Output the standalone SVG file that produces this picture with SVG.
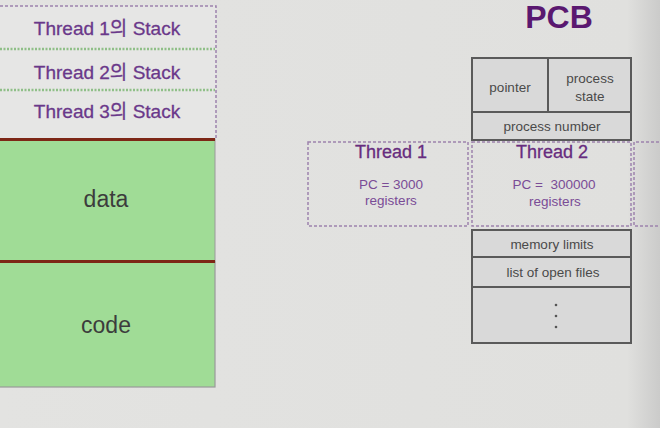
<svg xmlns="http://www.w3.org/2000/svg" width="660" height="428" viewBox="0 0 660 428">
<defs>
<linearGradient id="bg" x1="0" y1="0" x2="1" y2="0">
<stop offset="0" stop-color="#e3e3e1"/>
<stop offset="0.95" stop-color="#e0e0de"/>
<stop offset="1" stop-color="#cbcbca"/>
</linearGradient>
<style>
text{font-family:"Liberation Sans","Noto Sans CJK KR",Arial,sans-serif;text-anchor:middle}
.stk{font-size:19px;fill:#6a388a;stroke:#6a388a;stroke-width:0.3}
.seg{font-size:23px;fill:#3c3c3c}
.cell{fill:#d9d9d9;stroke:#5a5a5a;stroke-width:2}
.pt{font-size:13.5px;fill:#4a4a4a}
.th{font-size:18px;fill:#672c7e;stroke:#672c7e;stroke-width:0.3}
.tp{font-size:13.5px;fill:#7a4c96}
.dash{fill:none;stroke:#9d83ad;stroke-width:1.5;stroke-dasharray:3 2}
.gsep{stroke:#8fbf88;stroke-width:2.5;stroke-dasharray:2 1.5}
.red{stroke:#7d2716;stroke-width:3}
</style>
</defs>
<rect width="660" height="428" fill="url(#bg)"/>

<g id="address-space">
<g id="stack-area">
<rect x="-2" y="6" width="218" height="132" fill="#e6e6e5"/>
<path d="M0 6 H216 V138" class="dash"/>
</g>
<g id="thread1-stack">
<text x="107" y="35" class="stk">Thread 1의 Stack</text>
</g>
<line x1="0" y1="49" x2="215" y2="49" class="gsep"/>
<g id="thread2-stack">
<text x="107" y="79" class="stk">Thread 2의 Stack</text>
</g>
<line x1="0" y1="90" x2="215" y2="90" class="gsep"/>
<g id="thread3-stack">
<text x="107" y="118" class="stk">Thread 3의 Stack</text>
</g>
<g id="data">
<rect x="-2" y="139" width="217" height="123" fill="#a0dc96" stroke="#9a9a9a" stroke-width="1"/>
<text x="106" y="207" class="seg">data</text>
</g>
<g id="code">
<rect x="-2" y="262" width="217" height="125" fill="#a0dc96" stroke="#9a9a9a" stroke-width="1.2"/>
<text x="106" y="333" class="seg">code</text>
</g>
<line x1="0" y1="139.5" x2="215" y2="139.5" class="red"/>
<line x1="0" y1="261.5" x2="215" y2="261.5" class="red"/>
</g>

<g id="pcb-title">
<text x="559" y="28" font-size="32" font-weight="bold" fill="#5a1870">PCB</text>
</g>

<g id="pcb">
<g id="pointer">
<rect x="472" y="58" width="76" height="54" class="cell"/>
<text x="510" y="92" class="pt">pointer</text>
</g>
<g id="process-state">
<rect x="548" y="58" width="83" height="54" class="cell"/>
<text x="590" y="83" class="pt">process</text>
<text x="590" y="101" class="pt">state</text>
</g>
<g id="process-number">
<rect x="472" y="112" width="159" height="28" class="cell"/>
<text x="552" y="131" class="pt">process number</text>
</g>
<g id="memory-limits">
<rect x="472" y="230" width="159" height="27" class="cell"/>
<text x="552" y="249" class="pt">memory limits</text>
</g>
<g id="open-files">
<rect x="472" y="257" width="159" height="30" class="cell"/>
<text x="553" y="277" class="pt">list of open files</text>
</g>
<g id="more">
<rect x="472" y="287" width="159" height="56" class="cell"/>
<circle cx="556" cy="305" r="1.3" fill="#555"/>
<circle cx="556" cy="316" r="1.3" fill="#555"/>
<circle cx="556" cy="327" r="1.3" fill="#555"/>
</g>
</g>

<g id="thread1">
<rect x="308" y="142" width="160" height="84" class="dash"/>
<text x="391" y="158" class="th">Thread 1</text>
<text x="391" y="189" class="tp">PC = 3000</text>
<text x="391" y="205" class="tp">registers</text>
</g>
<g id="thread2">
<rect x="472" y="142" width="159" height="84" fill="#e8e8e7" class="dash"/>
<text x="552" y="158" class="th">Thread 2</text>
<text x="554" y="189" class="tp" xml:space="preserve">PC =  300000</text>
<text x="555" y="206" class="tp">registers</text>
</g>
<g id="thread3">
<path d="M664 142 H634 V226 H664" class="dash"/>
</g>
<g id="connectors"/>
</svg>
